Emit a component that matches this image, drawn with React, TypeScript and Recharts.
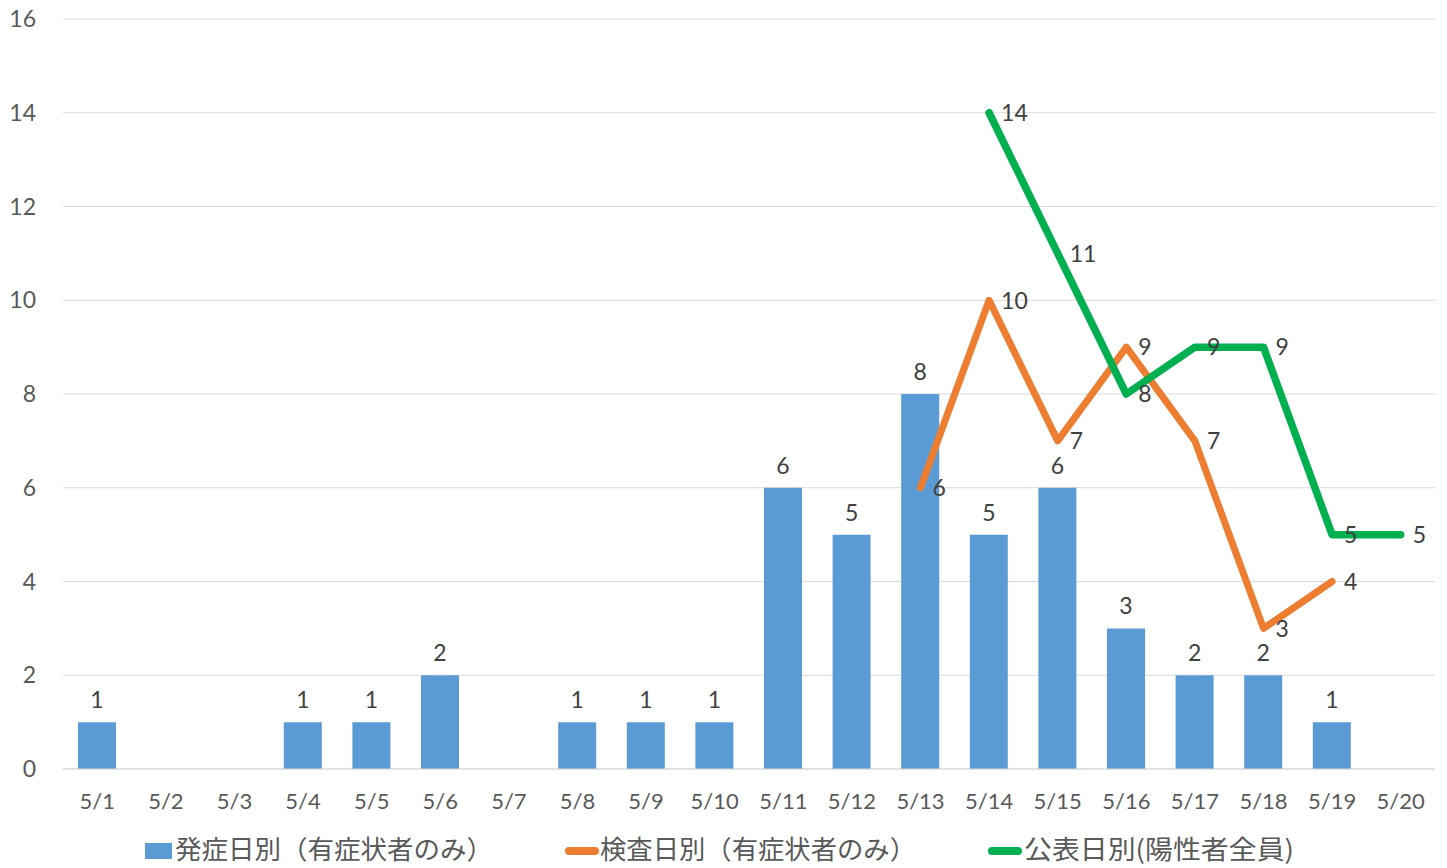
import React from 'react';
import { ComposedChart, Bar, Line, XAxis, YAxis, CartesianGrid, LabelList } from 'recharts';

const categories = ['5/1','5/2','5/3','5/4','5/5','5/6','5/7','5/8','5/9','5/10','5/11','5/12','5/13','5/14','5/15','5/16','5/17','5/18','5/19','5/20'];
const onsetByDay: (number | null)[] = [1, null, null, 1, 1, 2, null, 1, 1, 1, 6, 5, 8, 5, 6, 3, 2, 2, 1, null];
const testByDay: (number | null)[] = [null, null, null, null, null, null, null, null, null, null, null, null, 6, 10, 7, 9, 7, 3, 4, null];
const announcedByDay: (number | null)[] = [null, null, null, null, null, null, null, null, null, null, null, null, null, 14, 11, 8, 9, 9, 5, 5];
const yTicks = [0, 2, 4, 6, 8, 10, 12, 14, 16];

const seriesNames = ['発症日別（有症状者のみ）', '検査日別（有症状者のみ）', '公表日別(陽性者全員)'];

const data = categories.map((c, i) => ({
  date: c,
  onset: onsetByDay[i],
  test: testByDay[i],
  announced: announcedByDay[i],
}));

const NUM_FONT = 'Lato, "Noto Sans", sans-serif';
const CJK_FONT = '"Noto Sans CJK JP", sans-serif';
const TEXT = '#404040';
const AXIS_TEXT = '#595959';

const BarLabel = (props: any) => {
  const { x, y, width, value } = props;
  if (value === null || value === undefined) return null;
  return (
    <text x={x + width / 2} y={y - 14} textAnchor="middle" fill={TEXT} fontSize={23} fontFamily={NUM_FONT}>
      {value}
    </text>
  );
};

const RightLabel = (props: any) => {
  const { x, y, value } = props;
  if (value === null || value === undefined) return null;
  return (
    <text x={x + 12} y={y} dy="0.36em" textAnchor="start" fill={TEXT} fontSize={23} fontFamily={NUM_FONT}>
      {value}
    </text>
  );
};

export default function App() {
  return (
    <div style={{ position: 'absolute', left: 0, top: 0, width: 1447, height: 868, background: '#fff' }}>
      <ComposedChart
        width={1447}
        height={868}
        data={data}
        margin={{ top: 19, right: 12, left: 0, bottom: 49 }}
      >
        <CartesianGrid vertical={false} stroke="#d9d9d9" strokeWidth={1} />
        <XAxis
          dataKey="date"
          height={50}
          tickLine={false}
          axisLine={{ stroke: '#d9d9d9' }}
          tickSize={0}
          tickMargin={24}
          interval={0}
          tick={{ fill: AXIS_TEXT, fontSize: 22, fontFamily: NUM_FONT }}
        />
        <YAxis
          width={63}
          domain={[0, 16]}
          ticks={yTicks}
          interval={0}
          tickLine={false}
          axisLine={false}
          tickSize={0}
          tickMargin={27}
          tick={{ fill: AXIS_TEXT, fontSize: 23, fontFamily: NUM_FONT }}
        />
        <Bar dataKey="onset" name={seriesNames[0]} fill="#5b9bd5" barSize={38} isAnimationActive={false}>
          <LabelList dataKey="onset" content={BarLabel} />
        </Bar>
        <Line
          dataKey="test"
          name={seriesNames[1]}
          stroke="#ed7d31"
          strokeWidth={7}
          strokeLinecap="round"
          strokeLinejoin="round"
          dot={false}
          activeDot={false}
          isAnimationActive={false}
        >
          <LabelList dataKey="test" content={RightLabel} />
        </Line>
        <Line
          dataKey="announced"
          name={seriesNames[2]}
          stroke="#00b050"
          strokeWidth={7.5}
          strokeLinecap="round"
          strokeLinejoin="round"
          dot={false}
          activeDot={false}
          isAnimationActive={false}
        >
          <LabelList dataKey="announced" content={RightLabel} />
        </Line>
      </ComposedChart>
      <svg width={1447} height={868} style={{ position: 'absolute', left: 0, top: 0, pointerEvents: 'none' }}>
        <rect x={145} y={843} width={27} height={16} fill="#5b9bd5" />
        <text x={175} y={847} dominantBaseline="central" fill={AXIS_TEXT} fontSize={26} fontFamily={CJK_FONT} textLength={318} lengthAdjust="spacingAndGlyphs">
          {seriesNames[0]}
        </text>
        <line x1={569} y1={851} x2={595} y2={851} stroke="#ed7d31" strokeWidth={8} strokeLinecap="round" />
        <text x={600} y={847} dominantBaseline="central" fill={AXIS_TEXT} fontSize={26} fontFamily={CJK_FONT} textLength={316} lengthAdjust="spacingAndGlyphs">
          {seriesNames[1]}
        </text>
        <line x1={992} y1={851} x2={1018} y2={851} stroke="#00b050" strokeWidth={8} strokeLinecap="round" />
        <text x={1024} y={847} dominantBaseline="central" fill={AXIS_TEXT} fontSize={26} fontFamily={CJK_FONT} textLength={270} lengthAdjust="spacingAndGlyphs">
          {seriesNames[2]}
        </text>
      </svg>
    </div>
  );
}
